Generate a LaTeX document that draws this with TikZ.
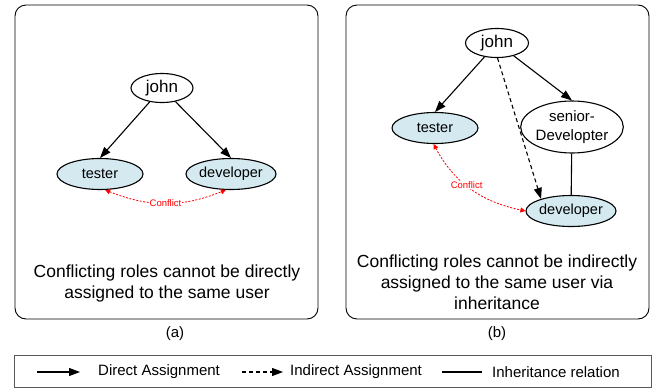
\documentclass[tikz,border=0pt]{standalone}
\usepackage{fontspec}
\setmainfont{Liberation Sans}
\usetikzlibrary{shapes.geometric,arrows.meta}
\definecolor{rolefill}{HTML}{D4EAF0}
\newcommand\fsz[2]{\fontsize{#1}{#2}\selectfont}
\tikzset{
  user/.style={ellipse,draw=black,line width=1.1pt,fill=white,inner sep=0pt,font=\fsz{17}{19}},
  role/.style={ellipse,draw=black,line width=1.1pt,fill=rolefill,inner sep=0pt,minimum width=86pt,minimum height=31pt,font=\fsz{14.5}{17}},
  direct/.style={line width=1.1pt,-{Triangle[length=11pt,width=8pt]}},
  indirect/.style={line width=1.1pt,dash pattern=on 4pt off 3pt,-{Triangle[length=11pt,width=8pt]}},
  inherit/.style={line width=1.1pt},
  conflict/.style={red,line width=0.8pt,dash pattern=on 2pt off 1.5pt,{Triangle[length=5pt,width=5pt]}-{Triangle[length=5pt,width=5pt]}},
  conflabel/.style={red,fill=white,inner sep=0.5pt,font=\fsz{9.5}{11}},
  panel/.style={draw=black,line width=0.9pt,rounded corners=11pt},
  caption/.style={align=center,font=\fsz{17.5}{21}},
  sublabel/.style={font=\fsz{15}{18}},
  legtext/.style={anchor=west,font=\fsz{15}{18},inner sep=0pt}
}
\begin{document}
\begin{tikzpicture}[x=1pt,y=-1pt]
\useasboundingbox (0,0) rectangle (662,389);
% panels
\draw[panel] (15,5) rectangle (318,319);
\draw[panel] (346,5) rectangle (649,319);
% panel (a)
\node[user,minimum width=62pt,minimum height=29pt] (ja) at (162,88) {john};
\node[role] (ta) at (100,174) {tester};
\node[role] (da) at (231,174) {developer};
\draw[direct] (ja) -- (ta.north);
\draw[direct] (ja) -- (da.north);
\draw[conflict] (ta.-72) to[out=-22,in=-158] node[conflabel] {Conflict} (da.-108);
\node[caption] (capa) at (167,283) {Conflicting roles cannot be directly\\assigned to the same user};
\node[sublabel] (la) at (175,334) {(a)};
% panel (b)
\node[user,minimum width=63pt,minimum height=29pt] (jb) at (497,43) {john};
\node[user,align=center,minimum width=96pt,minimum height=52pt,font=\fsz{15}{19}] (sd) at (572,127) {senior-\\Developter};
\node[role] (tb) at (435,128) {tester};
\node[role] (db) at (571,211) {developer};
\draw[direct] (jb) -- (tb.north);
\draw[direct] (jb) -- (sd.north);
\draw[indirect] (jb.-88) -- (db.158);
\draw[inherit] (sd) -- (db);
\draw[conflict] (tb.-95) to[out=-62,in=168] node[conflabel,pos=0.45] {Conflict} (db.west);
\node[caption] (capb) at (497,282) {Conflicting roles cannot be indirectly\\assigned to the same user via\\inheritance};
\node[sublabel] (lb) at (497,334) {(b)};
% legend
\draw[draw=black!65,line width=0.9pt] (14,355) rectangle (651,387);
\coordinate (l1a) at (37,372); \coordinate (l1b) at (80,372);
\coordinate (l2a) at (242,372); \coordinate (l2b) at (283,372);
\coordinate (l3a) at (442,372); \coordinate (l3b) at (482,372);
\draw[direct] (l1a) -- (l1b);
\draw[indirect] (l2a) -- (l2b);
\draw[inherit] (l3a) -- (l3b);
\node[legtext] (t1) at (98,372) {Direct Assignment};
\node[legtext] (t2) at (290,372) {Indirect Assignment};
\node[legtext] (t3) at (492,372) {Inheritance relation};
\end{tikzpicture}
\end{document}
